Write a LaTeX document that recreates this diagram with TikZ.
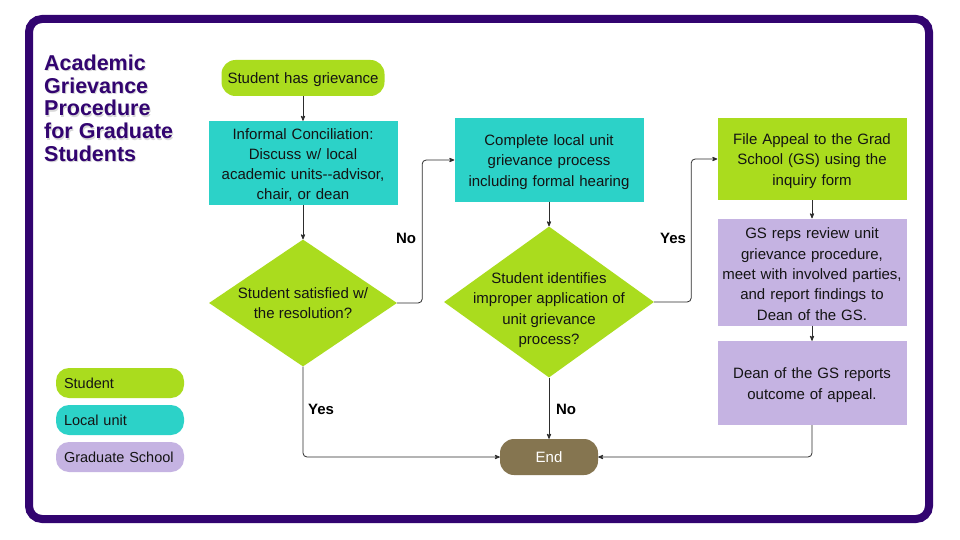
\documentclass[tikz,border=0pt]{standalone}
\usepackage{fontspec}
\setmainfont{Liberation Sans}
\usetikzlibrary{arrows,positioning,shapes.geometric,calc}

\definecolor{gspurple}{RGB}{50,4,112}
\definecolor{studentgreen}{RGB}{170,220,30}
\definecolor{unitteal}{RGB}{44,210,200}
\definecolor{gslilac}{RGB}{197,179,226}
\definecolor{endbrown}{RGB}{133,117,80}
\definecolor{linegray}{RGB}{45,45,45}

\tikzset{
	boxtext/.style={font=\fontsize{15}{20.3}\selectfont, text=black!92, align=center, execute at begin node={\rule{0pt}{15pt}}},
	stepbase/.style={boxtext, inner sep=0pt, minimum width=189pt, text width=180pt},
	studentbox/.style={stepbase, fill=studentgreen},
	unitbox/.style={stepbase, fill=unitteal},
	gsbox/.style={stepbase, fill=gslilac},
	decision/.style={diamond, fill=studentgreen, inner sep=0pt},
	legendpill/.style={font=\fontsize{14.5}{18}\selectfont, text=black!92, rounded corners=13pt, minimum width=128pt, minimum height=30pt, inner xsep=8pt, text width=112pt, align=left},
	flow/.style={->, >=stealth', draw=linegray, line width=0.8pt, rounded corners=4pt},
	answer/.style={font=\fontsize{15}{18}\selectfont\bfseries, text=black}
}

\begin{document}
\begin{tikzpicture}[x=1pt,y=-1pt]
	\useasboundingbox (0,0) rectangle (960,540);

	\begin{scope} % Frame and title
		\draw[gspurple, line width=8pt, fill=white, rounded corners=13pt] (29,19) rectangle (929,519);
		\node[anchor=north west, inner sep=0pt, align=left, text=black!30, opacity=0.5,
			font=\fontsize{21.5}{22.8}\selectfont\bfseries] (titleshadow) at (45,56)
			{Academic\\Grievance\\Procedure\\for Graduate\\Students};
		\node[anchor=north west, inner sep=0pt, align=left, text=gspurple,
			font=\fontsize{21.5}{22.8}\selectfont\bfseries] (title) at (44,54.5)
			{Academic\\Grievance\\Procedure\\for Graduate\\Students};
	\end{scope}

	\begin{scope} % Left column: informal step
		\node[studentbox, rounded corners=14pt, minimum width=163pt, minimum height=36pt, text width=155pt] (start) at (303,78) {Student has grievance};
		\node[unitbox, minimum height=84pt] (informal) at (303,163) {Informal Conciliation:\\ Discuss w/ local\\ academic units-{}-advisor,\\ chair, or dean};
		\node[decision, minimum width=188pt, minimum height=127pt,
			label={[boxtext]center:Student satisfied w/\\ the resolution?}] (satisfied) at (303,303) {};
	\end{scope}

	\begin{scope} % Middle column: local unit process
		\node[unitbox, minimum height=83pt] (formal) at (549,160) {Complete local unit\\ grievance process\\ including formal hearing};
		\node[decision, minimum width=210pt, minimum height=151pt] (improper) at (549,302) {};
		\node[boxtext] (impropertext) at ($(improper)+(0,8)$) {Student identifies\\ improper application of\\ unit grievance\\ process?};
		\node[rounded corners=14pt, fill=endbrown, text=white, font=\fontsize{15}{18}\selectfont, minimum width=98pt, minimum height=36pt] (end) at (549,457) {End};
	\end{scope}

	\begin{scope} % Right column: Graduate School appeal
		\node[studentbox, minimum height=82pt] (appeal) at (812,159) {File Appeal to the Grad\\ School (GS) using the\\ inquiry form};
		\node[gsbox, minimum height=107pt] (review) at (812,272) {GS reps review unit\\ grievance procedure,\\ meet with involved parties,\\ and report findings to\\ Dean of the GS.};
		\node[gsbox, minimum height=84pt] (outcome) at (812,383) {Dean of the GS reports\\ outcome of appeal.};
	\end{scope}

	\begin{scope} % Legend
		\node[legendpill, fill=studentgreen] (legstudent) at (120,383) {Student};
		\node[legendpill, fill=unitteal] (legunit) at (120,420) {Local unit};
		\node[legendpill, fill=gslilac] (leggs) at (120,457) {Graduate School};
	\end{scope}

	% connectors
	\draw[flow] (start) -- (informal);
	\draw[flow] (informal) -- (satisfied);
	\draw[flow] (satisfied.east) -- ++(25,0) |- (formal.west);
	\draw[flow] (satisfied.south) |- (end.west);
	\draw[flow] (formal) -- (improper);
	\draw[flow] (improper.east) -- ++(37,0) |- (appeal.west);
	\draw[flow] (improper.south) -- (end.north);
	\draw[flow] (appeal) -- (review);
	\draw[flow] (review) -- (outcome);
	\draw[flow] (outcome.south) |- (end.east);

	\node[answer] (nolocal) at (406,238) {No};
	\node[answer] (yesappeal) at (673,238) {Yes};
	\node[answer] (yesend) at (321,409) {Yes};
	\node[answer] (noend) at (566,409) {No};
\end{tikzpicture}
\end{document}
